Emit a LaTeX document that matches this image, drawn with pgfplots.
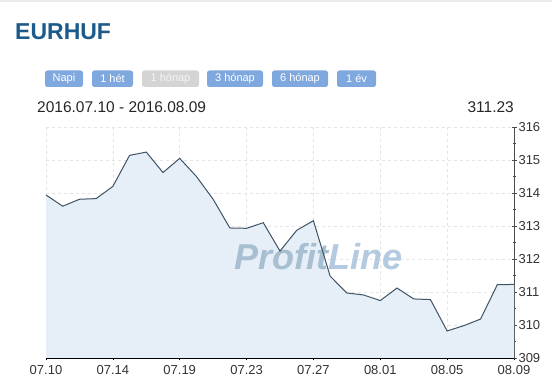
\documentclass[border=0pt]{standalone}
\usepackage{fontspec}
\setmainfont{Liberation Sans}
\usepackage{pgfplots}
\pgfplotsset{compat=1.18}
\definecolor{titleblue}{HTML}{1B5A8A}
\definecolor{btnblue}{HTML}{7FA8DE}
\definecolor{btngrey}{HTML}{D4D4D4}
\definecolor{fillblue}{HTML}{E6EEF7}
\definecolor{linecol}{HTML}{3F5366}
\definecolor{gridcol}{HTML}{DDDDDD}
\definecolor{wmA}{HTML}{A8BFD2}
\definecolor{wmB}{HTML}{B4CAE0}
\begin{document}
\begin{tikzpicture}
\useasboundingbox (0pt,0pt) rectangle (552pt,387pt);
\fill[white] (0pt,0pt) rectangle (552pt,387pt);
\fill[gridcol!60] (0pt,385pt) rectangle (552pt,387pt);
\node[anchor=base west,inner sep=0,text=titleblue,font=\fontsize{23}{23}\selectfont\bfseries] at (15pt,347pt) {EURHUF};
% buttons
\foreach \a/\b/\t/\c/\tc in {45/83/Napi/btnblue/white,92/133/1 hét/btnblue/white,142/199/1 hónap/btngrey/white!92!gray,207/263/3 hónap/btnblue/white,272/328/6 hónap/btnblue/white,337/376/1 év/btnblue/white}{
  \fill[\c,rounded corners=2.5pt] (\a pt,300pt) rectangle (\b pt,316.5pt);
  \node[text=\tc,font=\fontsize{11}{11}\selectfont,inner sep=0] at ({(\a+\b)/2*1pt},308.3pt) {\t};
}
\node[anchor=base west,inner sep=0,text=black!85,font=\fontsize{15.5}{15.5}\selectfont] at (37pt,274pt) {2016.07.10 - 2016.08.09};
\node[anchor=base east,inner sep=0,text=black!85,font=\fontsize{15.5}{15.5}\selectfont] at (514pt,274pt) {311.23};
\begin{axis}[
  at={(46pt,29pt)}, anchor=south west,
  scale only axis, width=468pt, height=231pt,
  xmin=0, xmax=28, ymin=309, ymax=316,
  axis y line*=right, axis x line*=bottom,
  xtick={0,4,...,28},
  xticklabels={07.10,07.14,07.19,07.23,07.27,08.01,08.05,08.09},
  ytick={309,...,316},
  minor ytick={309.5,310.5,...,315.5},
  /pgf/number format/assume math mode=true,
  ticklabel style={font=\fontsize{13}{13}\selectfont, text=black!80},
  yticklabel style={xshift=-1.5pt},
  xticklabel style={yshift=-1pt},
  grid=major,
  major grid style={gridcol!80, dashed, line width=0.5pt},
  tick align=center,
  major tick length=5pt,
  minor tick length=3pt,
  minor tick style={red!60, line width=0.5pt},
  x axis line style={black, line width=0.8pt},
  y axis line style={black!70, line width=0.8pt},
  xtick style={black, line width=0.6pt},
  ytick style={black!70, line width=0.6pt},
  clip=false,
]
\addplot[draw=none, fill=fillblue] table {
x y
0 313.94
1 313.60
2 313.81
3 313.83
4 314.20
5 315.14
6 315.24
7 314.62
8 315.05
9 314.50
10 313.81
11 312.94
12 312.93
13 313.10
14 312.24
15 312.87
16 313.16
17 311.48
18 310.97
19 310.91
20 310.74
21 311.12
22 310.79
23 310.77
24 309.82
25 309.98
26 310.18
27 311.22
28 311.23
} \closedcycle;
\node[font=\fontsize{36}{36}\selectfont\bfseries\itshape, inner sep=0, anchor=base] at (axis cs:16.3,311.68) {\textcolor{wmA}{Profit}\textcolor{wmB}{Line}};
\addplot[linecol, line width=1pt] table {
x y
0 313.94
1 313.60
2 313.81
3 313.83
4 314.20
5 315.14
6 315.24
7 314.62
8 315.05
9 314.50
10 313.81
11 312.94
12 312.93
13 313.10
14 312.24
15 312.87
16 313.16
17 311.48
18 310.97
19 310.91
20 310.74
21 311.12
22 310.79
23 310.77
24 309.82
25 309.98
26 310.18
27 311.22
28 311.23
};
\end{axis}
\end{tikzpicture}
\end{document}
